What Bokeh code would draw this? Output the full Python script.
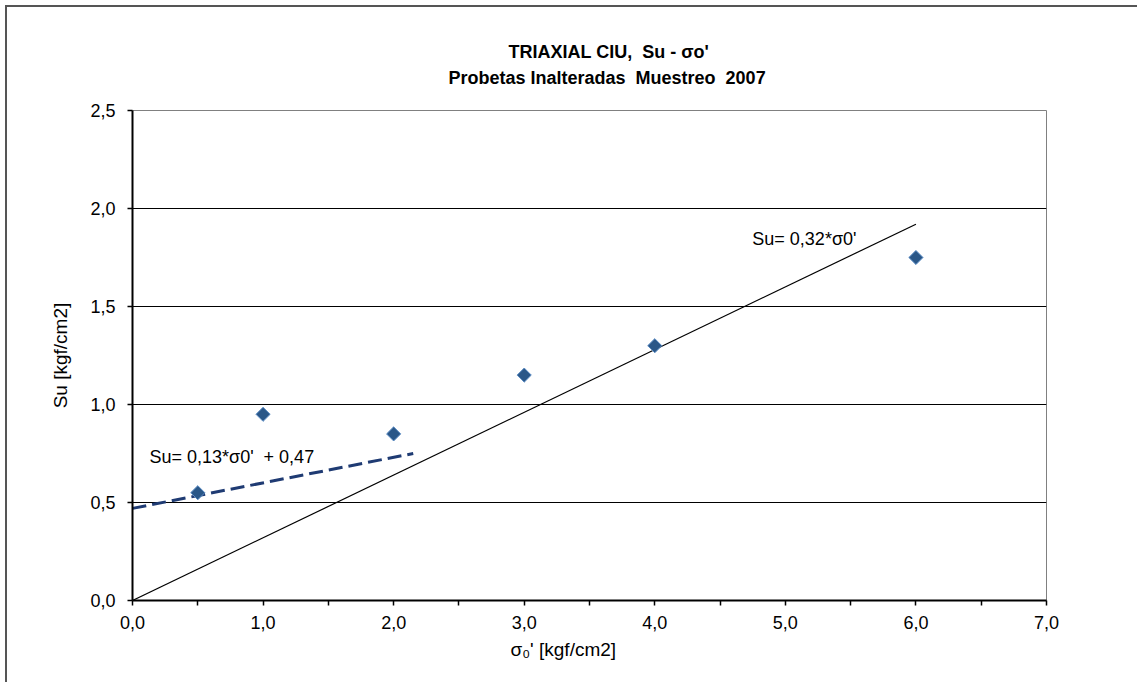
from bokeh.plotting import figure
from bokeh.models import (FixedTicker, CustomJSTickFormatter, Label, Title, Range1d)
from bokeh.embed import file_html
from bokeh.resources import INLINE

# data
sigma = [0.5, 1.0, 2.0, 3.0, 4.0, 6.0]
su = [0.55, 0.95, 0.85, 1.15, 1.30, 1.75]

fit1_x = [0.0, 6.0]
fit1_y = [0.0, 1.92]          # Su = 0.32 * s
fit2_x = [0.0, 2.15]
fit2_y = [0.47, 0.75]         # Su = 0.13 * s + 0.47

x_ticks = [0, 1, 2, 3, 4, 5, 6, 7]
x_minor = [0.5, 1.5, 2.5, 3.5, 4.5, 5.5, 6.5]
y_ticks = [0.0, 0.5, 1.0, 1.5, 2.0, 2.5]

title_lines = ["TRIAXIAL CIU, \u00a0Su - σo'", "Probetas Inalteradas \u00a0Muestreo \u00a02007"]
x_label = "σ₀' [kgf/cm2]"
y_label = "Su [kgf/cm2]"
eq1 = "Su= 0,32*σ0'"
eq2 = "Su= 0,13*σ0' \u00a0+ 0,47"

FONT = "Liberation Sans"

p = figure(width=1132, height=677, output_backend="svg", toolbar_location=None,
           x_range=Range1d(0, 7), y_range=Range1d(0, 2.5),
           min_border_left=125, min_border_right=93, min_border_top=103, min_border_bottom=84)
p.margin = (5, 0, 0, 5)
p.styles = {"border-left": "2px solid #555555", "border-top": "2px solid #555555"}
p.background_fill_color = "white"
p.border_fill_color = "white"
p.outline_line_color = "#808080"
p.outline_line_width = 1

# axes
fmt = CustomJSTickFormatter(code="return tick.toFixed(1).replace('.', ',');")
p.xaxis.ticker = FixedTicker(ticks=x_ticks, minor_ticks=x_minor)
p.yaxis.ticker = FixedTicker(ticks=y_ticks)
p.xaxis.formatter = fmt
p.yaxis.formatter = fmt
for ax in (p.xaxis, p.yaxis):
    ax.axis_line_color = "black"
    ax.axis_line_width = 2
    ax.major_tick_line_color = "black"
    ax.major_tick_line_width = 1.5
    ax.major_tick_out = 5
    ax.major_tick_in = 0
    ax.major_label_text_font = FONT
    ax.major_label_text_font_size = "18px"
    ax.major_label_text_color = "black"
    ax.axis_label_text_font = FONT
    ax.axis_label_text_font_size = "19px"
    ax.axis_label_text_font_style = "normal"
    ax.axis_label_text_color = "black"
p.xaxis.minor_tick_line_color = "black"
p.xaxis.minor_tick_line_width = 1.5
p.xaxis.minor_tick_out = 5
p.xaxis.minor_tick_in = 0
p.yaxis.minor_tick_line_color = None
p.xaxis.major_label_standoff = 10
p.yaxis.major_label_standoff = 12
p.yaxis.axis_label = y_label
p.yaxis.axis_label_standoff = 16

# x-axis title (slightly left of centre, as in the original)
p.add_layout(Title(text=x_label, align="left", offset=378, standoff=10,
                   text_font=FONT, text_font_size="19px", text_font_style="normal",
                   text_color="black"), "below")

p.xgrid.grid_line_color = None
p.ygrid.ticker = FixedTicker(ticks=[0.5, 1.0, 1.5, 2.0])
p.ygrid.grid_line_color = "black"
p.ygrid.grid_line_width = 1

# fit lines
p.line(fit1_x, fit1_y, line_color="black", line_width=1.2)
p.line(fit2_x, fit2_y, line_color="#1F3B73", line_width=3, line_dash="14 6")

# points
p.scatter(sigma, su, marker="square", size=10, angle=0.785398,
          fill_color="#2A5788", line_color="#5B8CC4", line_width=1)

# equations
p.add_layout(Label(x=4.747, y=1.842, text=eq1, text_font=FONT, text_font_size="18px",
                   text_baseline="middle", text_align="left", text_color="black"))
p.add_layout(Label(x=0.13, y=0.73, text=eq2, text_font=FONT, text_font_size="18px",
                   text_baseline="middle", text_align="left", text_color="black"))

# two-line chart title (first line indented so both lines appear centred)
title_text = "\u00a0" * 12 + title_lines[0] + "\n" + title_lines[1]
p.add_layout(Title(text=title_text, align="left", offset=316, standoff=45,
                   text_line_height=1.3,
                   text_font=FONT, text_font_size="18px", text_font_style="bold",
                   text_color="black"), "above")

open("out.html", "w").write(file_html(p, INLINE))
